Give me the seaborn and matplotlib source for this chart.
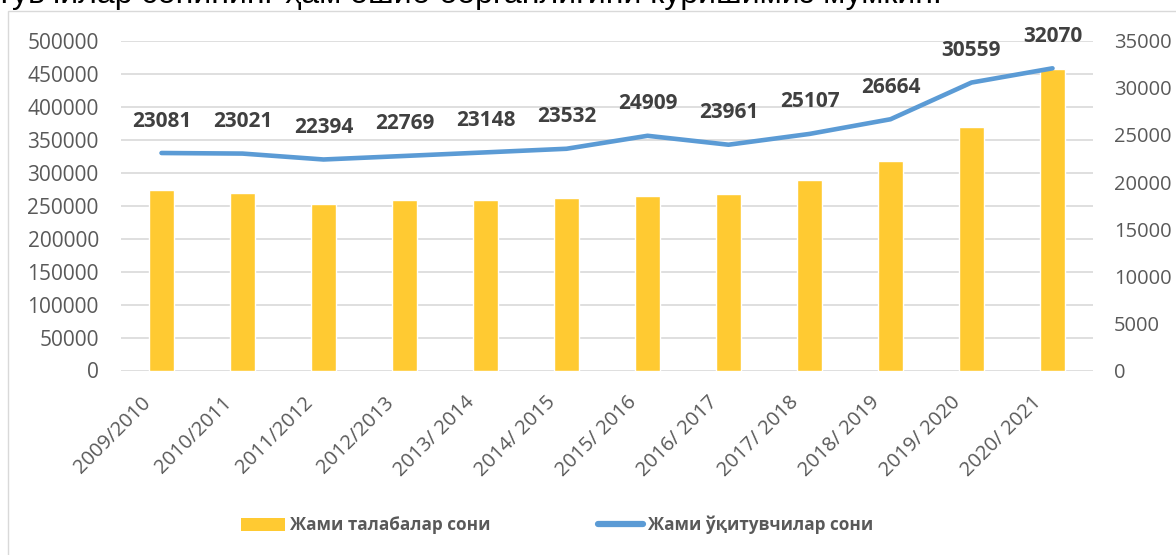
import numpy as np
import pandas as pd
import matplotlib
matplotlib.use('Agg')
import matplotlib.pyplot as plt
import matplotlib.transforms as mtransforms
from matplotlib.patches import Rectangle, Patch
from matplotlib.lines import Line2D
import seaborn as sns

years = ['2009/2010', '2010/2011', '2011/2012', '2012/2013', '2013/ 2014', '2014/ 2015',
         '2015/ 2016', '2016/ 2017', '2017/ 2018', '2018/ 2019', '2019/ 2020', '2020/ 2021']
students = [273900, 269300, 252700, 258300, 258700, 261300,
            264300, 268300, 289000, 317900, 369500, 457000]
teachers = [23081, 23021, 22394, 22769, 23148, 23532,
            24909, 23961, 25107, 26664, 30559, 32070]
students_label = 'Жами талабалар сони'
teachers_label = 'Жами ўқитувчилар сони'
top_text = 'тувчилар сонининг ҳам ошиб борганлигини кўришимиз мумкин.'

df = pd.DataFrame({'year': years, 'students': students, 'teachers': teachers})

sns.set_style('white')
plt.rcParams['font.family'] = ['Open Sans', 'DejaVu Sans']

bar_color = '#FFCA32'
line_color = '#5B9BD5'
txt_color = '#595959'

fig = plt.figure(figsize=(11.76, 5.55), dpi=100)
ax = fig.add_axes([121 / 1176, 1 - 370.5 / 555, (1093 - 121) / 1176, (370.5 - 40.7) / 555])

sns.barplot(data=df, x='year', y='students', color=bar_color, width=0.31,
            saturation=1, ax=ax, zorder=2)
ax.set_ylim(0, 500000)
ax.set_yticks(np.arange(0, 500001, 50000))
ax.set_xlim(-0.5, len(years) - 0.5)
ax.grid(axis='y', color='#D9D9D9', linewidth=1.2, zorder=0)
ax.set_axisbelow(True)
ax.set_xlabel('')
ax.set_ylabel('')
for s in ax.spines.values():
    s.set_visible(False)
ax.tick_params(axis='y', length=0, pad=16, labelsize=15, labelcolor=txt_color)
ax.tick_params(axis='x', length=0, pad=21, labelsize=14.5, labelcolor=txt_color)
shift = mtransforms.ScaledTranslation(-14 / 100, 0, fig.dpi_scale_trans)
for lab in ax.get_xticklabels():
    lab.set_rotation(45)
    lab.set_ha('right')
    lab.set_va('center')
    lab.set_rotation_mode('anchor')
    lab.set_transform(lab.get_transform() + shift)

ax2 = ax.twinx()
sns.lineplot(data=df, x='year', y='teachers', color=line_color, linewidth=3.3,
             sort=False, ax=ax2, zorder=3)
ax2.set_ylim(0, 35000)
ax2.set_yticks(np.arange(0, 35001, 5000))
ax2.set_ylabel('')
ax2.set_xlabel('')
for s in ax2.spines.values():
    s.set_visible(False)
ax2.tick_params(axis='y', length=0, pad=15, labelsize=14.5, labelcolor=txt_color)
ax2.grid(False)
for i, v in enumerate(teachers):
    ax2.annotate(str(v), (i, v), xytext=(0, 32), textcoords='offset pixels',
                 ha='center', va='center', fontsize=15, fontweight='bold', color='#404040')

# chart frame and the cut-off document line above it
fig.patches.append(Rectangle((8 / 1176, -0.01), 1.02, 1 - 11 / 555 + 0.01,
                             transform=fig.transFigure, fill=False,
                             edgecolor='#D9D9D9', linewidth=1))
fig.text(-3 / 1176, 1 - 3 / 555, top_text, fontsize=23, color='black',
         family=['Liberation Sans', 'DejaVu Sans'], ha='left', va='baseline')

handles = [Patch(facecolor=bar_color, edgecolor='none'),
           Line2D([0], [0], color=line_color, linewidth=4.5, solid_capstyle='round')]
leg = fig.legend(handles, [students_label, teachers_label], loc='center',
                 bbox_to_anchor=(557 / 1176, 1 - 525 / 555), ncol=2, frameon=False,
                 handlelength=2.6, handleheight=0.8, handletextpad=0.3, columnspacing=6.3,
                 prop={'size': 12.3, 'weight': 'bold'})
for t in leg.get_texts():
    t.set_color(txt_color)

fig.savefig('out.png', dpi=100)
